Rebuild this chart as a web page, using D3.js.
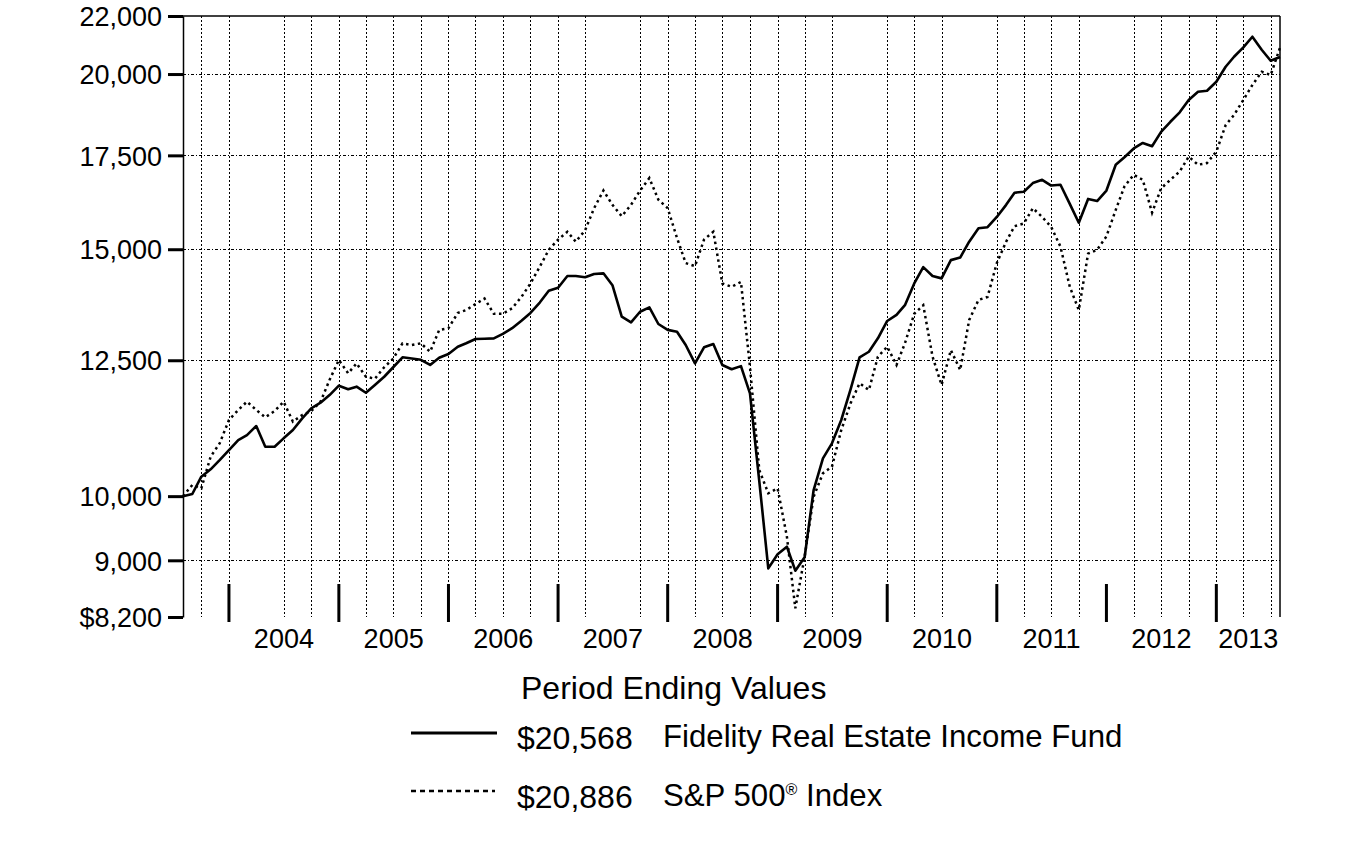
<!DOCTYPE html>
<html>
<head>
<meta charset="utf-8">
<script src="https://cdn.jsdelivr.net/npm/d3@7"></script>
<style>
  html, body { margin: 0; padding: 0; background: #fff; }
  svg { display: block; }
  text { font-family: "Liberation Sans", Arial, sans-serif; fill: #000; }
</style>
</head>
<body>
<svg id="chart" width="1355" height="843"></svg>
<script>
// ---------- DATA ----------
const startDate = "2003-07-31";
const endDate = "2013-07-31";
// Monthly period-ending values, Jul 2003 .. Jul 2013 (121 points)
const fundValues = [
  10000, 10035, 10325, 10451, 10611, 10787, 10965, 11055, 11220, 10845,
  10845, 10996, 11147, 11363, 11551, 11659, 11806, 11989, 11918, 11970,
  11850, 12003, 12166, 12357, 12561, 12535, 12510, 12404, 12551, 12629,
  12781, 12853, 12943, 12950, 12958, 13052, 13177, 13340, 13510, 13742,
  14010, 14081, 14355, 14355, 14325, 14402, 14418, 14140, 13428, 13304,
  13536, 13633, 13267, 13140, 13099, 12817, 12436, 12769, 12839, 12404,
  12317, 12380, 11839, 10250, 8882, 9089, 9203, 8848, 9045, 10101,
  10641, 10906, 11332, 11918, 12561, 12676, 12958, 13333, 13466, 13684,
  14180, 14565, 14355, 14299, 14734, 14796, 15187, 15527, 15553, 15817,
  16134, 16459, 16486, 16721, 16812, 16653, 16675, 16161, 15667, 16292,
  16235, 16518, 17232, 17447, 17699, 17860, 17765, 18188, 18492, 18782,
  19168, 19426, 19458, 19750, 20242, 20575, 20897, 21263, 20815, 20441,
  20568
];
const spValues = [
  10000, 10185, 10129, 10669, 10906, 11332, 11520, 11678, 11520, 11382,
  11500, 11678, 11301, 11425, 11500, 11678, 12102, 12506, 12235, 12436,
  12166, 12127, 12357, 12535, 12853, 12817, 12853, 12676, 13137, 13177,
  13510, 13575, 13707, 13833, 13491, 13491, 13614, 13870, 14180, 14575,
  14985, 15239, 15437, 15187, 15474, 16046, 16518, 16134, 15836, 16134,
  16518, 16858, 16271, 16046, 15281, 14663, 14589, 15239, 15437, 14180,
  14103, 14216, 12368, 10438, 10047, 10129, 9356, 8318, 9054, 9991,
  10383, 10495, 11147, 11647, 12036, 11903, 12573, 12781, 12404, 12853,
  13491, 13684, 12573, 12003, 12712, 12301, 13355, 13801, 13870, 14663,
  15187, 15578, 15648, 16046, 15817, 15560, 15063, 14103, 13575, 14894,
  14985, 15320, 16000, 16630, 16950, 16812, 15928, 16576, 16812, 17042,
  17463, 17232, 17282, 17610, 18391, 18701, 19168, 19642, 20075, 19966,
  20886
];
const yTickValues = [8200, 9000, 10000, 12500, 15000, 17500, 20000, 22000];
const yTickLabels = ["$8,200", "9,000", "10,000", "12,500", "15,000", "17,500", "20,000", "22,000"];
const yGridValues = [9000, 12500, 15000, 17500, 20000];
const yearLabels = ["2004", "2005", "2006", "2007", "2008", "2009", "2010", "2011", "2012", "2013"];
const yearTickDates = ["2003-12-31", "2004-12-31", "2005-12-31", "2006-12-31", "2007-12-31",
                       "2008-12-31", "2009-12-31", "2010-12-31", "2011-12-31", "2012-12-31"];
const gridDates = [
  "2003-09-30", "2003-12-31", "2004-06-30", "2004-09-30", "2004-12-31",
  "2005-03-31", "2005-06-30", "2005-09-30", "2005-12-31",
  "2006-03-31", "2006-06-30", "2006-09-30", "2006-12-31",
  "2007-03-31", "2007-09-30", "2007-12-31",
  "2008-03-31", "2008-06-30", "2008-09-30", "2008-12-31",
  "2009-03-31", "2009-06-30", "2009-12-31",
  "2010-03-31", "2010-06-30", "2010-12-31",
  "2011-03-31", "2011-06-30", "2011-09-30",
  "2012-03-31", "2012-06-30", "2012-09-30", "2012-12-31",
  "2013-03-31", "2013-06-30"
];
const legendTitle = "Period Ending Values";
const seriesNames = ["Fidelity Real Estate Income Fund", "S&P 500"];
const seriesEndLabels = ["$20,568", "$20,886"];

// ---------- LAYOUT ----------
const parse = d3.timeParse("%Y-%m-%d");
const plotLeft = 183, plotRight = 1280, plotTop = 16, plotBottom = 617;

const svg = d3.select("#chart");

const x = d3.scaleTime().domain([parse(startDate), parse(endDate)]).range([plotLeft, plotRight]);
const y = d3.scaleLog().domain([8200, 22000]).range([plotBottom, plotTop]);
const crisp = v => Math.round(v) + 0.5;

// month-end dates for each data point
const firstMonth = d3.timeMonth.floor(parse(startDate));
const dates = fundValues.map((_, i) => d3.timeDay.offset(d3.timeMonth.offset(firstMonth, i + 1), -1));

// ---------- GRID ----------
const grid = svg.append("g").attr("shape-rendering", "crispEdges");
grid.selectAll("line.v").data(gridDates).join("line").attr("class", "v")
  .attr("x1", d => crisp(x(parse(d)))).attr("x2", d => crisp(x(parse(d))))
  .attr("y1", plotTop).attr("y2", plotBottom)
  .attr("stroke", "#000").attr("stroke-width", 1).attr("stroke-dasharray", "2,2");
grid.selectAll("line.h").data(yGridValues).join("line").attr("class", "h")
  .attr("x1", plotLeft).attr("x2", plotRight)
  .attr("y1", d => crisp(y(d))).attr("y2", d => crisp(y(d)))
  .attr("stroke", "#000").attr("stroke-width", 1).attr("stroke-dasharray", "3,2,1,2");

// ---------- FRAME ----------
svg.append("line").attr("x1", plotLeft).attr("x2", plotRight).attr("y1", plotTop).attr("y2", plotTop)
  .attr("stroke", "#000").attr("stroke-width", 1.5);
svg.append("line").attr("x1", plotRight).attr("x2", plotRight).attr("y1", plotTop).attr("y2", plotBottom)
  .attr("stroke", "#000").attr("stroke-width", 1.5);

// ---------- Y AXIS ----------
const yAxis = d3.axisLeft(y).tickValues(yTickValues)
  .tickFormat((d, i) => yTickLabels[i]).tickSize(15).tickSizeOuter(0).tickPadding(6);
const gy = svg.append("g").attr("transform", `translate(${plotLeft},0)`).call(yAxis);
gy.select(".domain").attr("stroke-width", 1.5);
gy.selectAll(".tick line").attr("stroke-width", 3);
gy.selectAll(".tick text").style("font-size", "27px").attr("dy", "0.36em")
  .style("font-family", '"Liberation Sans", Arial, sans-serif');

// ---------- X YEAR TICKS ----------
const gx = svg.append("g");
gx.selectAll("line").data(yearTickDates).join("line")
  .attr("x1", d => x(parse(d))).attr("x2", d => x(parse(d)))
  .attr("y1", 584).attr("y2", 622)
  .attr("stroke", "#000").attr("stroke-width", 3);
const bounds = yearTickDates.map(d => x(parse(d))).concat([x(parse(endDate))]);
gx.selectAll("text").data(yearLabels).join("text")
  .attr("x", (d, i) => (bounds[i] + bounds[i + 1]) / 2)
  .attr("y", 648)
  .attr("text-anchor", "middle")
  .style("font-size", "27px")
  .text(d => d);

// ---------- SERIES ----------
const line = d3.line().x((d, i) => x(dates[i])).y(d => y(d));
svg.append("path").datum(spValues)
  .attr("d", line).attr("fill", "none").attr("stroke", "#000")
  .attr("stroke-width", 2.5).attr("stroke-dasharray", "2.5,3.5");
svg.append("path").datum(fundValues)
  .attr("d", line).attr("fill", "none").attr("stroke", "#000")
  .attr("stroke-width", 2.6).attr("stroke-linejoin", "round");

// ---------- LEGEND ----------
const lg = svg.append("g");
lg.append("text").attr("x", 521).attr("y", 699).style("font-size", "32px").text(legendTitle);

lg.append("line").attr("x1", 411).attr("x2", 497).attr("y1", 733).attr("y2", 733)
  .attr("stroke", "#000").attr("stroke-width", 3);
lg.append("text").attr("x", 517).attr("y", 749).style("font-size", "32px").text(seriesEndLabels[0]);
lg.append("text").attr("x", 663).attr("y", 747).style("font-size", "31.2px").text(seriesNames[0]);

lg.append("line").attr("x1", 411).attr("x2", 495).attr("y1", 791).attr("y2", 791)
  .attr("stroke", "#000").attr("stroke-width", 2.5).attr("stroke-dasharray", "5,4");
lg.append("text").attr("x", 517).attr("y", 808).style("font-size", "32px").text(seriesEndLabels[1]);
const t2 = lg.append("text").attr("x", 663).attr("y", 806).style("font-size", "31.2px");
t2.append("tspan").text(seriesNames[1]);
t2.append("tspan").attr("dy", -11).style("font-size", "16px").text("®");
t2.append("tspan").attr("dy", 11).text(" Index");
</script>
</body>
</html>
